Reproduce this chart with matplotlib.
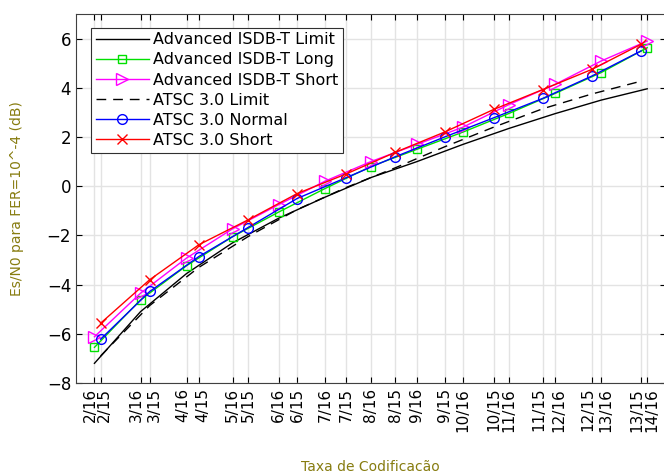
import numpy as np
import matplotlib
matplotlib.use('Agg')
import matplotlib.pyplot as plt
import matplotlib.transforms as mtransforms

# code rates (numerator / denominator)
num16 = np.arange(2, 15)
num15 = np.arange(2, 14)
rates16 = num16 / 16.0
rates15 = num15 / 15.0

# Es/N0 (dB) needed for FER = 1e-4
isdb_limit = [-7.2, -5.1, -3.55, -2.3, -1.3, -0.45, 0.35, 1.0, 1.7, 2.35, 2.95, 3.5, 3.96]
isdb_long = [-6.55, -4.62, -3.23, -2.05, -1.05, -0.1, 0.8, 1.5, 2.2, 2.96, 3.77, 4.62, 5.63]
isdb_short = [-6.12, -4.35, -2.92, -1.73, -0.75, 0.2, 1.0, 1.7, 2.4, 3.32, 4.14, 5.09, 5.9]
atsc_limit = [-6.9, -4.85, -3.3, -2.05, -0.95, -0.05, 0.75, 1.6, 2.4, 3.15, 3.75, 4.27]
atsc_normal = [-6.22, -4.28, -2.86, -1.68, -0.5, 0.35, 1.2, 2.0, 2.78, 3.57, 4.48, 5.5]
atsc_short = [-5.57, -3.80, -2.38, -1.37, -0.3, 0.5, 1.38, 2.2, 3.12, 3.93, 4.75, 5.77]

# x tick labels, merged and sorted by rate
tick_pairs = sorted([(n / 16.0, '%d/16' % n) for n in num16] +
                    [(n / 15.0, '%d/15' % n) for n in num15])
tick_pos = [p[0] for p in tick_pairs]
tick_lab = [p[1] for p in tick_pairs]

label_color = '#877c10'

fig = plt.figure(figsize=(6.64, 4.75), dpi=100)
ax = fig.add_axes([0.1145, 0.1937, 0.888, 0.7768])

ax.plot(rates16, isdb_limit, color='black', linewidth=1.0,
        label='Advanced ISDB-T Limit')
ax.plot(rates16, isdb_long, color='#00e000', linewidth=1.0, marker='s',
        markersize=6, markerfacecolor='none', label='Advanced ISDB-T Long')
ax.plot(rates16, isdb_short, color='#ff00ff', linewidth=1.0, marker='>',
        markersize=8, markerfacecolor='none', label='Advanced ISDB-T Short')
ax.plot(rates15, atsc_limit, color='black', linewidth=1.0, dashes=(7, 5),
        label='ATSC 3.0 Limit')
ax.plot(rates15, atsc_normal, color='#0000ff', linewidth=1.0, marker='o',
        markersize=7, markerfacecolor='none', label='ATSC 3.0 Normal')
ax.plot(rates15, atsc_short, color='#ff0000', linewidth=1.0, marker='x',
        markersize=7, label='ATSC 3.0 Short')

ax.set_xlim(0.1, 0.9)
ax.set_ylim(-8, 7)
ax.set_xticks(tick_pos)
ax.set_xticklabels(tick_lab, rotation=90, fontsize=11)
ax.set_yticks(np.arange(-8, 7, 2))
ax.tick_params(axis='y', labelsize=12)
ax.tick_params(direction='in', top=True, right=True, length=4, width=0.8)

# push apart labels of ticks that sit very close together
labels = ax.get_xticklabels()
for i in range(len(tick_pos) - 1):
    if tick_pos[i + 1] - tick_pos[i] < 0.018:
        for lab, dx in ((labels[i], -3.0), (labels[i + 1], 3.0)):
            off = mtransforms.ScaledTranslation(dx / 72.0, 0, fig.dpi_scale_trans)
            lab.set_transform(lab.get_transform() + off)

ax.grid(True, color='#e3e3e3', linewidth=1.0)
ax.set_axisbelow(True)
for s in ax.spines.values():
    s.set_color('#404040')

ax.set_xlabel('Taxa de Codificacão', color=label_color, fontsize=10, labelpad=20)
ax.set_ylabel('Es/N0 para FER=10^-4 (dB)', color=label_color, fontsize=10, labelpad=16)

leg = ax.legend(loc='upper left', bbox_to_anchor=(0.012, 0.985), fontsize=11.5,
                fancybox=False, framealpha=1.0, edgecolor='#303030',
                handlelength=3.3, borderpad=0.3, labelspacing=0.32,
                handletextpad=0.3)
leg.get_frame().set_linewidth(0.8)

fig.savefig('out.png', dpi=100)
